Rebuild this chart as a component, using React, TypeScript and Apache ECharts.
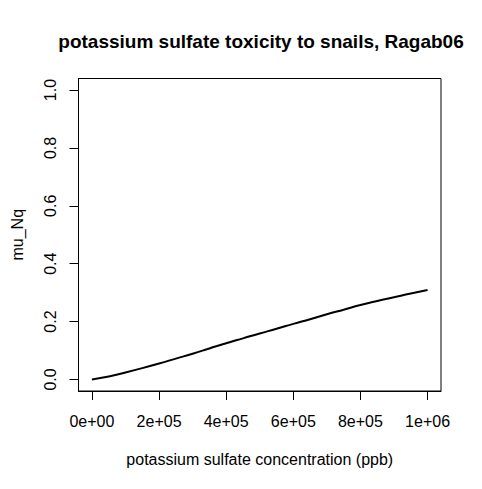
import React, { useEffect, useRef } from "react";
import * as echarts from "echarts";

const concentration = [0, 50000, 100000, 150000, 200000, 250000, 300000, 350000, 400000, 450000, 500000, 550000, 600000, 650000, 700000, 750000, 800000, 850000, 900000, 950000, 1000000];
const muNq = [0, 0.010, 0.024, 0.039, 0.055, 0.072, 0.089, 0.107, 0.125, 0.142, 0.159, 0.175, 0.192, 0.208, 0.225, 0.241, 0.257, 0.271, 0.284, 0.297, 0.309];
const xTicks = [0, 200000, 400000, 600000, 800000, 1000000];
const xTickLabels = ["0e+00", "2e+05", "4e+05", "6e+05", "8e+05", "1e+06"];
const yTicks = [0, 0.2, 0.4, 0.6, 0.8, 1];
const yTickLabels = ["0.0", "0.2", "0.4", "0.6", "0.8", "1.0"];

const FONT = "'Liberation Sans', Arial, sans-serif";

function labelFor(ticks: number[], labels: string[], v: number) {
  for (let i = 0; i < ticks.length; i++) {
    if (Math.abs(ticks[i] - v) < 1e-9 * Math.max(1, Math.abs(ticks[i]))) return labels[i];
  }
  return "";
}

export default function App() {
  const ref = useRef<HTMLDivElement>(null);
  useEffect(() => {
    if (!ref.current) return;
    const chart = echarts.init(ref.current, null, { renderer: "svg" });
    chart.setOption({
      animation: false,
      backgroundColor: "#ffffff",
      title: {
        text: "potassium sulfate toxicity to snails, Ragab06",
        left: 256,
        top: 27,
        textAlign: "center",
        textStyle: { fontFamily: FONT, fontSize: 19, fontWeight: "bold", color: "#000" },
      },
      grid: { left: 78.5, right: 41, top: 78.5, bottom: 98, containLabel: false },
      graphic: [
        {
          type: "rect",
          shape: { x: 78.5, y: 78.5, width: 362.5, height: 312.5 },
          style: { fill: "none", stroke: "#000", lineWidth: 1 },
          silent: true,
          z: 10,
        },
      ],
      xAxis: {
        type: "value",
        min: -40000,
        max: 1040000,
        name: "potassium sulfate concentration (ppb)",
        nameLocation: "middle",
        nameGap: 60,
        nameTextStyle: { fontFamily: FONT, fontSize: 16, color: "#000" },
        axisLine: { show: true, onZero: false, lineStyle: { color: "#000", width: 1 } },
        axisTick: { show: true, length: 9, customValues: xTicks, lineStyle: { color: "#000" } },
        axisLabel: {
          fontFamily: FONT,
          fontSize: 16,
          color: "#000",
          margin: 22,
          customValues: xTicks,
          formatter: (v: number) => labelFor(xTicks, xTickLabels, v),
        },
        splitLine: { show: false },
      },
      yAxis: {
        type: "value",
        min: -0.04,
        max: 1.04,
        name: "mu_Nq",
        nameLocation: "middle",
        nameGap: 53,
        nameRotate: 90,
        nameTextStyle: { fontFamily: FONT, fontSize: 16, color: "#000" },
        axisLine: { show: true, onZero: false, lineStyle: { color: "#000", width: 1 } },
        axisTick: { show: true, length: 9, customValues: yTicks, lineStyle: { color: "#000" } },
        axisLabel: {
          fontFamily: FONT,
          fontSize: 16,
          color: "#000",
          margin: 20,
          rotate: 90,
          customValues: yTicks,
          formatter: (v: number) => labelFor(yTicks, yTickLabels, v),
        },
        splitLine: { show: false },
      },
      series: [
        {
          type: "line",
          data: concentration.map((c, i) => [c, muNq[i]]),
          smooth: true,
          showSymbol: false,
          lineStyle: { color: "#000", width: 2 },
        },
      ],
    });
    return () => chart.dispose();
  }, []);
  return (
    <div
      ref={ref}
      style={{ position: "fixed", left: 0, top: 0, width: 482, height: 489, background: "#fff" }}
    />
  );
}
